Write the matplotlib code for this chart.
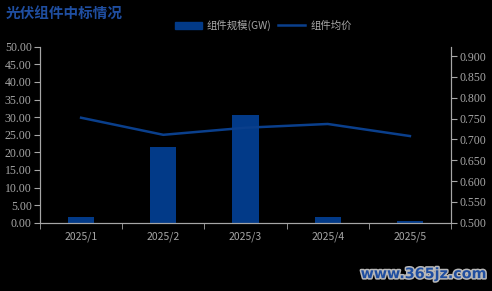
import matplotlib
matplotlib.use("Agg")
import matplotlib.pyplot as plt
import matplotlib.patheffects as pe
from matplotlib.patches import Patch
from matplotlib.lines import Line2D

plt.rcParams['font.family'] = ['Noto Sans CJK SC', 'DejaVu Sans']

# 数据
months = ['2025/1', '2025/2', '2025/3', '2025/4', '2025/5']
scale_gw = [1.6, 21.5, 30.6, 1.6, 0.4]
avg_price = [0.752, 0.711, 0.728, 0.737, 0.708]

left_ticks = [0, 5, 10, 15, 20, 25, 30, 35, 40, 45, 50]
right_ticks = [0.5, 0.55, 0.6, 0.65, 0.7, 0.75, 0.8, 0.85, 0.9]

BG = 'black'
GREY = '#a6a6a6'
BLUE = '#023a88'
LINE_BLUE = '#0a3f8c'
SERIF = ['Liberation Serif', 'DejaVu Serif']

fig = plt.figure(figsize=(4.92, 2.91), dpi=100, facecolor=BG)
ax = fig.add_axes([0.0813, 0.2347, 0.8354, 0.6048], facecolor=BG)
ax2 = ax.twinx()

x = list(range(len(months)))
ax.bar(x, scale_gw, width=0.32, color=BLUE, zorder=2)
ax2.plot(x, avg_price, color=LINE_BLUE, linewidth=1.8, zorder=3)

ax.set_xlim(-0.5, len(months) - 0.5)
ax.set_ylim(0, 50)
ax2.set_ylim(0.5, 0.9225)
ax.set_yticks(left_ticks)
ax.set_yticklabels([f'{v:.2f}' for v in left_ticks], family=SERIF, fontsize=8.5)
ax2.set_yticks(right_ticks)
ax2.set_yticklabels([f'{v:.3f}' for v in right_ticks], family=SERIF, fontsize=8.5)

# 类目刻度在分隔处
ax.set_xticks(x)
ax.set_xticklabels(months)
ax.set_xticks([i - 0.5 for i in range(len(months) + 1)], minor=True)
ax.tick_params(axis='x', which='major', length=0, colors=GREY, labelsize=7.5, pad=6)
ax.tick_params(axis='x', which='minor', length=4, color=GREY, direction='out')
ax.tick_params(axis='y', colors=GREY, length=4, pad=2)
ax2.tick_params(axis='y', colors=GREY, length=4, pad=2)

for a in (ax, ax2):
    a.spines['top'].set_visible(False)
    for side in ('left', 'right', 'bottom'):
        a.spines[side].set_color(GREY)
        a.spines[side].set_linewidth(0.8)

# 标题
fig.text(0.012, 0.955, '光伏组件中标情况', color='#1f4ea0', fontsize=10.5,
         fontweight='bold', ha='left', va='center')

# 图例
handles = [Patch(facecolor=BLUE, edgecolor=BLUE),
           Line2D([0], [0], color=LINE_BLUE, linewidth=1.8)]
fig.legend(handles, ['组件规模(GW)', '组件均价'], loc='center',
           bbox_to_anchor=(0.535, 0.913), ncol=2, frameon=False,
           fontsize=7.5, labelcolor=GREY, handlelength=2.6, handleheight=0.7,
           columnspacing=0.6, handletextpad=0.5)

# 水印
fig.text(0.988, 0.058, 'www.365jz.com', color='#1f4ea0', fontsize=10.3,
         fontweight='bold', ha='right', va='center', family='DejaVu Sans',
         path_effects=[pe.withStroke(linewidth=2.2, foreground='#b8b8b8')])

fig.savefig('out.png', dpi=100, facecolor=BG)
